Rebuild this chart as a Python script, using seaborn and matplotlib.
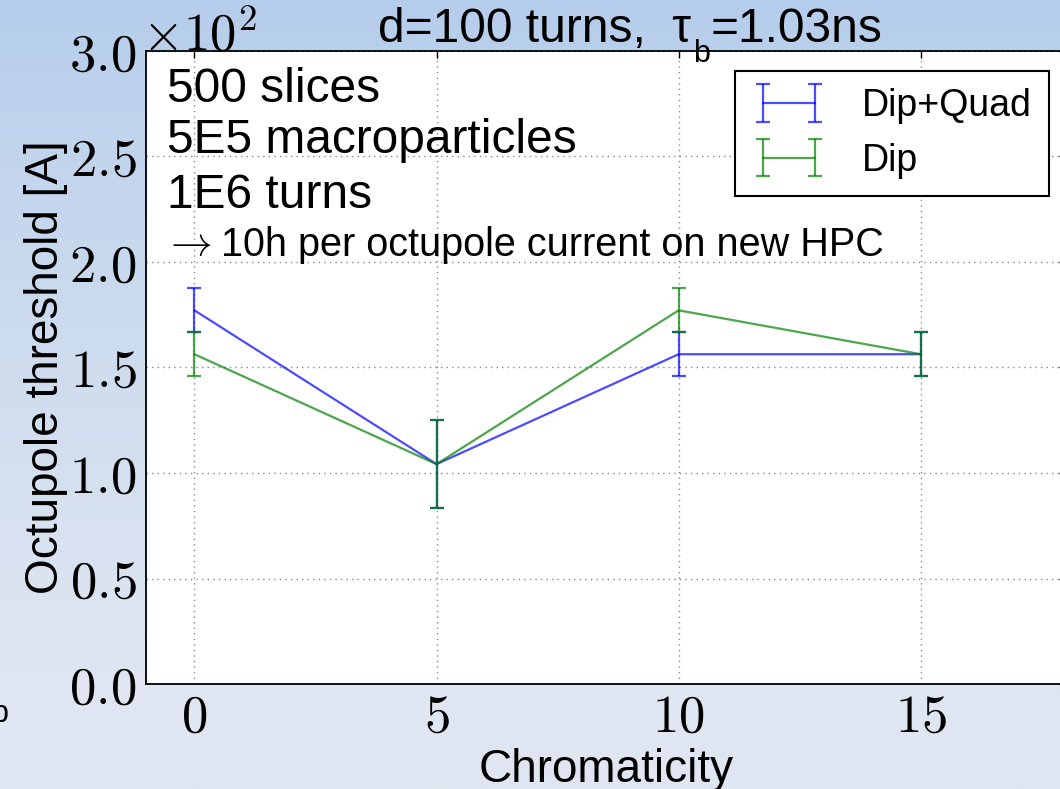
import numpy as np
import matplotlib
matplotlib.use("Agg")
import matplotlib.pyplot as plt
import matplotlib.transforms as mtransforms
import seaborn as sns
from matplotlib.ticker import FuncFormatter, FixedLocator

# Octupole threshold [A] versus chromaticity for two impedance models
chromaticity = [0, 5, 10, 15]
dipquad_threshold = [177.1, 104.2, 156.3, 156.3]
dipquad_err = [10.4, 20.8, 10.4, 10.4]
dip_threshold = [156.3, 104.2, 177.1, 156.3]
dip_err = [10.4, 20.8, 10.4, 10.4]
series_labels = ["Dip+Quad", "Dip"]
x_ticks = [0, 5, 10, 15]
y_ticks = [0, 50, 100, 150, 200, 250, 300]

sns.set_style("white")
plt.rcParams["font.family"] = ["Liberation Sans", "DejaVu Sans"]
plt.rcParams["mathtext.fontset"] = "cm"
for key in ("text.color", "axes.labelcolor", "xtick.color", "ytick.color"):
    plt.rcParams[key] = "black"

W, H = 1060, 789
fig = plt.figure(figsize=(W / 100, H / 100), dpi=100)


def fx(px):
    return px / W


def fy(py):
    return 1 - py / H


# slide background gradient
bg = fig.add_axes([0, 0, 1, 1], zorder=-10)
t = np.linspace(0, 1, 400)[:, None]
t = np.clip(t / 0.85, 0, 1) ** 0.8
top = np.array([180, 205, 235]) / 255
bot = np.array([223, 230, 241]) / 255
grad = top[None, None, :] * (1 - t[..., None]) + bot[None, None, :] * t[..., None]
grad = np.repeat(grad, 2, axis=1)
bg.imshow(grad, aspect="auto", extent=[0, 1, 0, 1], origin="upper")
bg.set_axis_off()

ax = fig.add_axes([fx(146), fy(684), (1066 - 146) / W, (684 - 51) / H])
ax.set_facecolor("white")

blue = "#0000ff"
green = "#008000"
alpha = 0.7
lw = 1.6

sns.lineplot(x=chromaticity, y=dipquad_threshold, ax=ax, color=blue, alpha=alpha,
             lw=lw, legend=False, zorder=3)
sns.lineplot(x=chromaticity, y=dip_threshold, ax=ax, color=green, alpha=alpha,
             lw=lw, legend=False, zorder=3)
ax.errorbar(chromaticity, dipquad_threshold, yerr=dipquad_err, fmt="none",
            ecolor=blue, alpha=alpha, elinewidth=lw, capsize=5, capthick=lw, zorder=3)
ax.errorbar(chromaticity, dip_threshold, yerr=dip_err, fmt="none",
            ecolor=green, alpha=alpha, elinewidth=lw, capsize=5, capthick=lw, zorder=3)

# legend proxies in errorbar style
h1 = ax.errorbar([np.nan], [np.nan], yerr=[0], fmt="-", color=blue, alpha=alpha,
                 lw=lw, elinewidth=lw, capsize=5, capthick=lw, label=series_labels[0])
h2 = ax.errorbar([np.nan], [np.nan], yerr=[0], fmt="-", color=green, alpha=alpha,
                 lw=lw, elinewidth=lw, capsize=5, capthick=lw, label=series_labels[1])

ax.set_xlim(-1, 18)
ax.set_ylim(0, 300)
ax.xaxis.set_major_locator(FixedLocator(x_ticks))
ax.yaxis.set_major_locator(FixedLocator(y_ticks))
ax.xaxis.set_major_formatter(FuncFormatter(lambda v, p: rf"${int(v)}$"))
ax.yaxis.set_major_formatter(FuncFormatter(lambda v, p: rf"${v / 100:.1f}$"))
ax.tick_params(axis="both", which="major", direction="in", length=5, width=1,
               labelsize=38, top=True, right=True, color="black")
ax.tick_params(axis="y", pad=7)
ax.tick_params(axis="x", pad=6)
ax.grid(True, color="#8a8a8a", ls=(0, (1, 3)), lw=1)
for s in ax.spines.values():
    s.set_color("black")
    s.set_linewidth(1.3)

# multiplier for the y tick labels
shift = mtransforms.ScaledTranslation(-4 / 100, 0, fig.dpi_scale_trans)
ax.text(0, 1, r"$\times10^{2}$", transform=ax.transAxes + shift, ha="left",
        va="baseline", fontsize=38)

ax.set_ylabel("Octupole threshold [A]", fontsize=33, labelpad=1)
ax.set_xlabel("Chromaticity", fontsize=33, labelpad=4)

leg = ax.legend(handles=[h1, h2], loc="upper right",
                bbox_to_anchor=(fx(1049), fy(71)), bbox_transform=fig.transFigure,
                borderaxespad=0, fontsize=27, numpoints=2, handlelength=2.0,
                handletextpad=0.95, labelspacing=0.5, borderpad=0.45,
                fancybox=False, framealpha=1, edgecolor="black")
leg.get_frame().set_linewidth(1.5)

# simulation settings
fig.text(fx(167), fy(102), "500 slices", fontsize=34.5, va="baseline")
fig.text(fx(167), fy(153), "5E5 macroparticles", fontsize=34.5, va="baseline")
fig.text(fx(167), fy(208), "1E6 turns", fontsize=34.5, va="baseline")
fig.text(fx(163), fy(255), r"$\rightarrow$", fontsize=30, va="baseline")
fig.text(fx(221), fy(256), "10h per octupole current on new HPC", fontsize=28.5,
         va="baseline")

# header: d and bunch length with subscript
renderer = fig.canvas.get_renderer()
t1 = fig.text(fx(378), fy(42), "d=100 turns,  \u03c4", fontsize=34.5, va="baseline")
x_end = t1.get_window_extent(renderer).x1
t2 = fig.text((x_end + 2) / W, fy(62), "b", fontsize=22, va="baseline")
x_end = t2.get_window_extent(renderer).x1
fig.text((x_end + 1) / W, fy(42), "=1.03ns", fontsize=34.5, va="baseline")
fig.text(fx(-9), fy(722), "b", fontsize=22, va="baseline")

fig.savefig("out.png", dpi=100)
